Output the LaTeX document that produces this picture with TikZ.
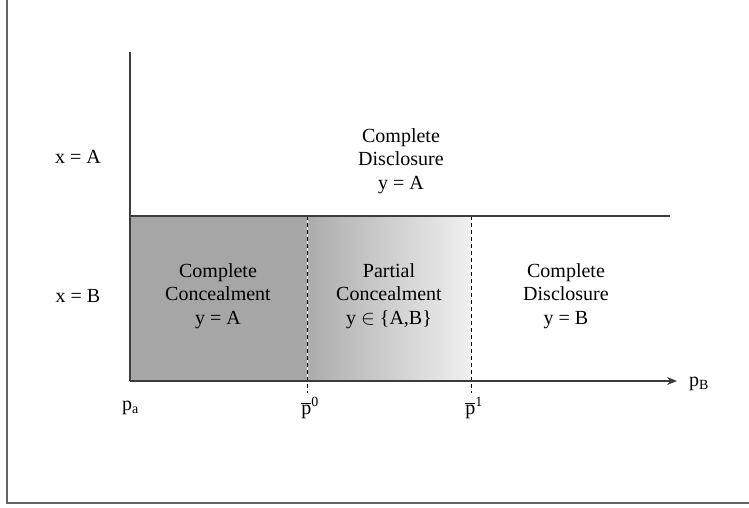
\documentclass[tikz,border=0pt]{standalone}
\usepackage{fontspec}
\setmainfont{Liberation Serif}
\usetikzlibrary{arrows.meta}
\definecolor{linegray}{HTML}{3C3C3C}
\definecolor{boxgray}{HTML}{A6A6A6}
\definecolor{gradL}{HTML}{ACACAC}
\definecolor{gradR}{HTML}{F0F0F0}
\newcommand\lblsz{\fontsize{20}{23.5}\selectfont}
\newcommand\subsz{\fontsize{14}{14}\selectfont}
\begin{document}
\begin{tikzpicture}[x=1pt,y=-1pt,
  axisline/.style={draw=linegray,line width=1.3pt},
  frameline/.style={draw=linegray!80,line width=1.5pt},
  divline/.style={draw=black,line width=0.8pt,dash pattern=on 4pt off 3pt},
  lbl/.style={font=\lblsz,align=center,inner sep=0pt,text=black}]
\useasboundingbox (0,0) rectangle (749,507);
% frame
\draw[frameline] (7,0) -- (7,503) -- (749,503);
% regions
\fill[boxgray] (130,216) rectangle (307,381);
\shade[left color=gradL,right color=gradR] (307,216) rectangle (471,381);
% coordinates
\coordinate (ytop) at (130,52);
\coordinate (orig) at (130,381);
\coordinate (xend) at (677,381);
\coordinate (hl) at (130,216);
\coordinate (hr) at (670,216);
\coordinate (d0t) at (307,216);
\coordinate (d0b) at (307,393);
\coordinate (d1t) at (471,216);
\coordinate (d1b) at (471,393);
% dividers
\draw[white,line width=0.8pt] (d0t) -- (d0b);
\draw[divline] (d0t) -- (d0b);
\draw[divline] (d1t) -- (d1b);
% axes
\draw[axisline] (ytop) -- (orig);
\draw[axisline] (hl) -- (hr);
\draw[axisline,-{Stealth[length=10pt,width=8pt]}] (orig) -- (xend);
% labels
\node[lbl] (cdA) at (401,161) {Complete\\Disclosure\\y = A};
\node[lbl] (xA) at (78,157) {x = A};
\node[lbl] (xB) at (78,296) {x = B};
\node[lbl] (cc) at (218,296) {Complete\\Concealment\\y = A};
\node[lbl] (pc) at (389,296) {Partial\\Concealment\\y $\in$ \{A,B\}};
\node[lbl] (cdB) at (566,296) {Complete\\Disclosure\\y = B};
\node[lbl,anchor=west] (pa) at (122,408) {p\raisebox{-3pt}{\subsz a}};
\node[lbl] (p0) at (310,408) {$\overline{\mbox{p}}^{\mbox{\subsz 0}}$};
\node[lbl] (p1) at (474,408) {$\overline{\mbox{p}}^{\mbox{\subsz 1}}$};
\node[lbl,anchor=west] (pB) at (689,384) {p\raisebox{-3pt}{\subsz B}};
\end{tikzpicture}
\end{document}
